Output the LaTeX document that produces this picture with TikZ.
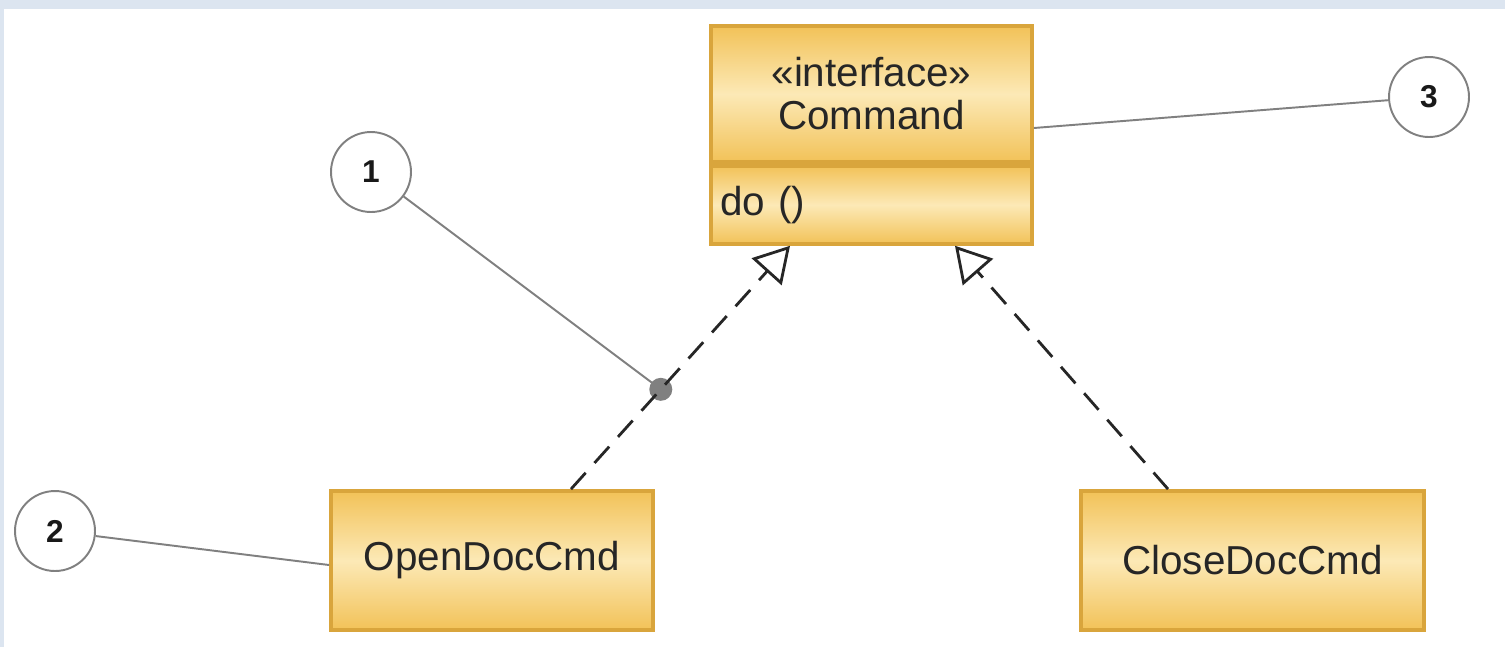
\documentclass[tikz,border=0pt]{standalone}
\usepackage{fontspec}
\setmainfont{Liberation Sans}
\usetikzlibrary{arrows.meta,calc}
\definecolor{frameblue}{HTML}{DCE5F0}
\definecolor{goldline}{HTML}{D9A53C}
\definecolor{golddark}{HTML}{F2C258}
\definecolor{goldlight}{HTML}{FCE9B6}
\definecolor{calloutgray}{HTML}{808080}

\begin{document}
\begin{tikzpicture}[x=0.02cm,y=-0.02cm,
  classbox/.style={draw=goldline, line width=2.2pt, top color=golddark,
    bottom color=golddark, middle color=goldlight, inner sep=0pt,
    font=\fontsize{23}{24.5}\selectfont, text=black!85},
  callout/.style={draw=calloutgray, line width=1.1pt, circle,
    minimum size=1.6cm, inner sep=0pt, fill=white,
    font=\fontsize{18}{18}\selectfont\bfseries, text=black!90},
  leader/.style={draw=calloutgray, line width=1.1pt},
  realize/.style={draw=black!85, line width=1.6pt,
    dash pattern=on 12.5pt off 7.5pt,
    -{Triangle[open, length=0.7cm, width=0.8cm, line width=1.6pt]}}
]
\useasboundingbox (0,0) rectangle (1505,647);

% window frame
\fill[frameblue] (0,0) rectangle (1505,9);
\fill[frameblue] (0,0) rectangle (4,647);

% interface Command: name and operations compartments
\node[classbox, minimum width=6.42cm, minimum height=2.72cm, align=center]
  (cmdhead) at (871.5,94) {«interface»\\Command};
\node[classbox, anchor=north, minimum width=6.42cm, minimum height=1.56cm,
  inner xsep=0.18cm, text width=6.06cm, align=left]
  (cmdops) at (cmdhead.south) {do ()};

% implementing classes
\node[classbox, minimum width=6.44cm, minimum height=2.78cm]
  (open) at (492,560.5) {OpenDocCmd};
\node[classbox, minimum width=6.86cm, minimum height=2.78cm]
  (close) at (1252.5,560.5) {CloseDocCmd};

% numbered callouts
\node[callout] (c1) at (371,172) {1};
\node[callout] (c2) at (55,531) {2};
\node[callout] (c3) at (1429,97) {3};

% realization end points
\coordinate (openTail) at ([xshift=1.58cm]open.north);
\coordinate (openHead) at ([xshift=-1.63cm]cmdops.south);
\coordinate (closeTail) at ([xshift=-1.69cm]close.north);
\coordinate (closeHead) at ([xshift=1.67cm]cmdops.south);
\coordinate (dot) at ($(openTail)!0.41!(openHead)$);

% callout leaders
\draw[leader] (c1) -- (dot);
\fill[calloutgray] (dot) circle (0.23cm);
\draw[leader] (c2) -- ([yshift=-0.09cm]open.west);
\draw[leader] ([yshift=-0.68cm]cmdhead.east) -- (c3);

% realizations
\draw[realize] (openTail) -- (openHead);
\draw[realize] (closeTail) -- (closeHead);
\end{tikzpicture}
\end{document}
